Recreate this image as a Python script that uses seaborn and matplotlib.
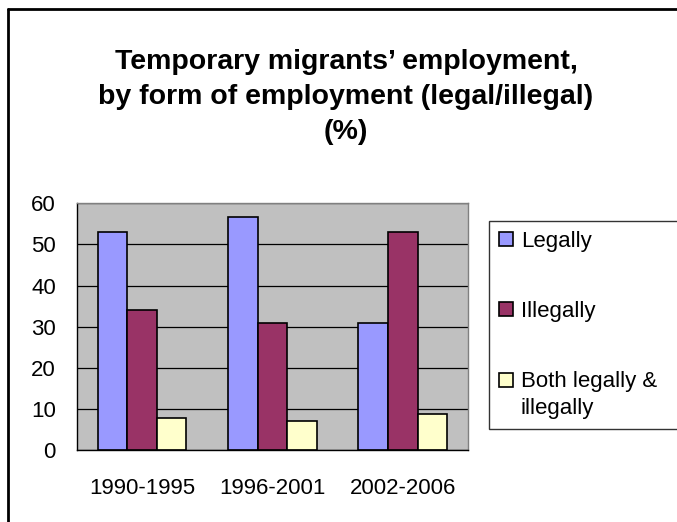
import matplotlib
matplotlib.use("Agg")
import matplotlib.pyplot as plt
from matplotlib.lines import Line2D
from matplotlib.patches import Rectangle
from matplotlib.legend_handler import HandlerPatch
import seaborn as sns
import pandas as pd

periods = ["1990-1995", "1996-2001", "2002-2006"]
legally = [53, 56.7, 30.8]
illegally = [34, 30.8, 53]
both = [7.8, 7.0, 8.7]
series_names = ["Legally", "Illegally", "Both legally &\nillegally"]
colors = ["#9999FF", "#993366", "#FFFFCC"]
yticks = [0, 10, 20, 30, 40, 50, 60]
title = "Temporary migrants\u2019 employment,\nby form of employment (legal/illegal)\n(%)"

rows = []
for name, vals in zip(series_names, [legally, illegally, both]):
    for p, v in zip(periods, vals):
        rows.append({"Period": p, "Series": name, "Value": v})
df = pd.DataFrame(rows)

sns.set_style("white")
plt.rcParams["font.family"] = ["Liberation Sans", "DejaVu Sans"]
plt.rcParams["text.color"] = "black"
plt.rcParams["axes.labelcolor"] = "black"
plt.rcParams["xtick.color"] = "black"
plt.rcParams["ytick.color"] = "black"

FS = 16
W, H = 677, 522
fig = plt.figure(figsize=(W / 100, H / 100), dpi=100)
ax = fig.add_axes([76.7 / W, 1 - 450 / H, (468 - 76.7) / W, (450 - 203.3) / H])
ax.set_facecolor("#C0C0C0")
ax.set_axisbelow(True)
ax.yaxis.grid(True, color="black", linewidth=0.9)

sns.barplot(data=df, x="Period", y="Value", hue="Series", hue_order=series_names,
            palette=colors, width=0.68, gap=0, edgecolor="black", linewidth=1.2,
            saturation=1, errorbar=None, ax=ax, legend=True)

ax.set_xlim(-0.5, 2.5)
ax.set_ylim(0, 60)
ax.set_yticks(yticks)
ax.set_yticklabels([str(t) for t in yticks])
ax.set_xticks([-0.5, 0.5, 1.5, 2.5])
ax.set_xticklabels([])
ax.set_xticks([0, 1, 2], minor=True)
ax.set_xticklabels(periods, minor=True)
ax.tick_params(axis="x", which="major", direction="out", length=5, width=1, color="black")
ax.tick_params(axis="x", which="minor", length=0, pad=20, labelsize=FS, labelcolor="black")
ax.tick_params(axis="y", direction="out", length=5, width=1, color="black", labelsize=FS,
               pad=10, labelcolor="black")
ax.set_xlabel("")
ax.set_ylabel("")
for s in ["left", "bottom"]:
    ax.spines[s].set_color("black")
    ax.spines[s].set_linewidth(1)
for s in ["top", "right"]:
    ax.spines[s].set_color("#808080")
    ax.spines[s].set_linewidth(1)

handles, labels = ax.get_legend_handles_labels()
ax.get_legend().remove()


def shifted_patch(legend, orig_handle, xdescent, ydescent, width, height, fontsize):
    return Rectangle((-xdescent, -ydescent + 0.68 * fontsize), width, height)


leg = fig.legend(handles, labels, loc="upper left",
                 bbox_to_anchor=(489 / W, 1 - 220.7 / H, 230 / W, 0.0), mode="expand",
                 frameon=True, fancybox=False, fontsize=FS, handlelength=0.62,
                 handleheight=0.62, handletextpad=0.36, labelspacing=2.22,
                 borderpad=0.45, borderaxespad=0,
                 handler_map={handles[2]: HandlerPatch(patch_func=shifted_patch)})
leg.get_frame().set_edgecolor("black")
leg.get_frame().set_linewidth(1)
for t in leg.get_texts():
    t.set_linespacing(1.35)
    t.set_color("black")

fig.text(346 / W, 1 - 97 / H, title, ha="center", va="center", fontsize=20.5,
         fontweight="bold", linespacing=1.45, color="black")

fig.add_artist(Line2D([7.5 / W, 7.5 / W], [0, 1 - 8.5 / H], color="black", linewidth=2,
                      transform=fig.transFigure))
fig.add_artist(Line2D([7.5 / W, 1], [1 - 8.5 / H, 1 - 8.5 / H], color="black", linewidth=2,
                      transform=fig.transFigure))

fig.savefig("out.png", dpi=100)
